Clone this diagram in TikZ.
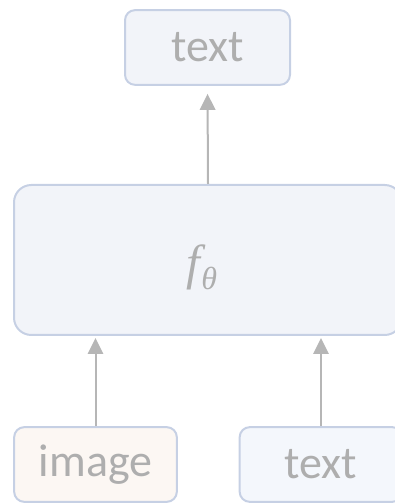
\documentclass[tikz,border=0pt]{standalone}
\usepackage{fontspec}
\setmainfont{Carlito}
\newfontfamily\symfont{Liberation Serif}
\usetikzlibrary{arrows.meta, positioning}

\definecolor{boxline}{RGB}{198,208,228}
\definecolor{boxfill}{RGB}{242,244,249}
\definecolor{imgfill}{RGB}{252,247,243}
\definecolor{txtfill}{RGB}{244,247,252}
\definecolor{labelgray}{RGB}{174,174,174}
\definecolor{arrowgray}{RGB}{182,182,182}

% italic f with theta subscript
\newcommand{\ftheta}{{\symfont\itshape\fontsize{37}{40}\selectfont f\kern0.5pt\raisebox{-7pt}{\fontsize{24}{30}\selectfont θ}}}

\tikzset{
  block/.style={draw=boxline, line width=1.5pt, rounded corners=7.5pt,
    text=labelgray, font=\fontsize{34.5}{40}\selectfont,
    minimum width=122pt, minimum height=56pt, inner sep=0pt},
  flow/.style={draw=arrowgray, line width=1.5pt,
    -{Triangle[length=12pt,width=11.5pt]}}
}

\begin{document}
\begin{tikzpicture}[x=0.75pt,y=0.75pt]
\useasboundingbox (0,0) rectangle (395,503);
% model in the middle
\node[block, fill=boxfill, rounded corners=13pt, minimum width=291pt,
  minimum height=112.5pt] (model) at (208,243)
  {\raisebox{-15pt}[0pt][0pt]{\ftheta\kern9pt}};
% output on top
\node[block, fill=boxfill, minimum width=123.75pt] (out) at (207.5,455.5) {text};
% the two inputs
\node[block, fill=imgfill] (img) at (95.5,38.5) {image};
\node[block, fill=txtfill] (txt) at (321,38.5) {text};

\draw[flow, shorten >=6pt] (model.north) -- (out.south);
\draw[flow, shorten >=1.5pt] (img.north) -- (img.north |- model.south);
\draw[flow, shorten >=1.5pt] (txt.north) -- (txt.north |- model.south);
\end{tikzpicture}
\end{document}
